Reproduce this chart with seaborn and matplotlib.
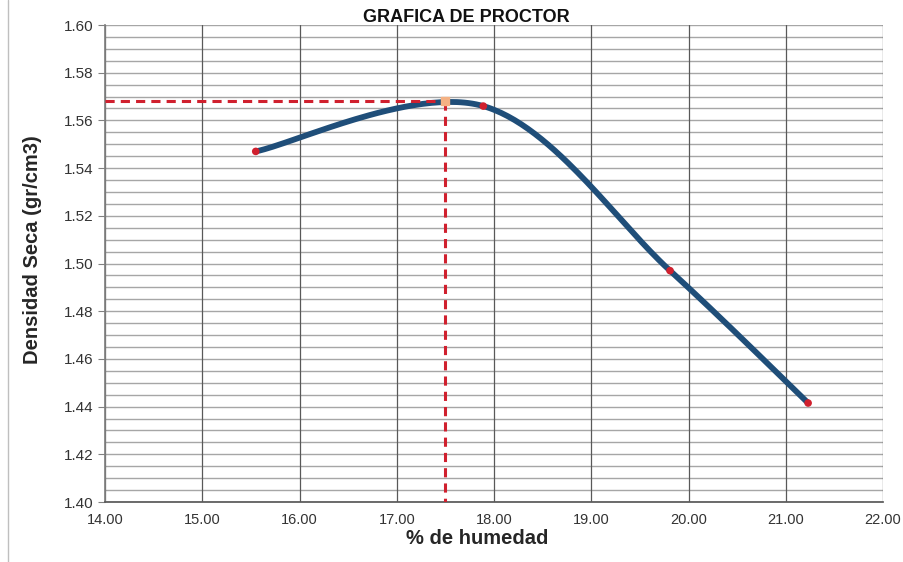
import numpy as np
import matplotlib
matplotlib.use("Agg")
import matplotlib.pyplot as plt
import seaborn as sns
import pandas as pd
from matplotlib.lines import Line2D

sns.set_theme(style="white")
plt.rcParams['font.family'] = ['Liberation Sans', 'DejaVu Sans']

# Data
humedad = [15.55, 17.89, 19.81, 21.23]
densidad = [1.547, 1.566, 1.497, 1.4415]
opt_humedad = 17.50
max_densidad = 1.568
x_ticks = [14, 15, 16, 17, 18, 19, 20, 21, 22]
y_ticks = [1.40, 1.42, 1.44, 1.46, 1.48, 1.50, 1.52, 1.54, 1.56, 1.58, 1.60]

# Excel-like smoothed line (Bezier with Catmull-Rom control points)
P = np.column_stack([humedad, densidad])
n = len(P)
sx, sy = [], []
t = np.linspace(0, 1, 60)
for i in range(n - 1):
    p0 = P[i]
    p1 = P[i + 1]
    pm = P[i - 1] if i > 0 else P[i]
    pp = P[i + 2] if i + 2 < n else P[i + 1]
    c1 = p0 + (p1 - pm) / 6.0
    c2 = p1 - (pp - p0) / 6.0
    b = ((1 - t) ** 3)[:, None] * p0 + (3 * (1 - t) ** 2 * t)[:, None] * c1 \
        + (3 * (1 - t) * t ** 2)[:, None] * c2 + (t ** 3)[:, None] * p1
    sx.extend(b[:, 0]); sy.extend(b[:, 1])
curve = pd.DataFrame({"x": sx, "y": sy})
pts = pd.DataFrame({"x": humedad, "y": densidad})

fig = plt.figure(figsize=(9.04, 5.62), dpi=100)
ax = fig.add_axes([105 / 904, 60 / 562, 778 / 904, 477 / 562])

ax.set_xlim(14, 22)
ax.set_ylim(1.40, 1.60)

# grid
for yv in np.arange(1.40, 1.6001, 0.005):
    ax.axhline(yv, color="#a6a6a6", lw=1.0, zorder=1)
for xv in x_ticks:
    ax.axvline(xv, color="#595959", lw=0.9, zorder=1)

sns.lineplot(data=curve, x="x", y="y", ax=ax, color="#1f4e79", lw=4.2,
             sort=False, estimator=None, zorder=3)
sns.scatterplot(data=pts, x="x", y="y", ax=ax, color="#d0202e", s=30,
                edgecolor="none", zorder=4)

ax.plot([14, opt_humedad], [max_densidad, max_densidad], color="#d0202e",
        lw=2.2, ls=(0, (3, 2)), zorder=5)
ax.plot([opt_humedad, opt_humedad], [max_densidad, 1.40], color="#d0202e",
        lw=2.2, ls=(0, (3, 2)), zorder=5)
ax.scatter([opt_humedad], [max_densidad], marker="s", s=30, color="#f4b183",
           zorder=6)

ax.set_xticks(x_ticks)
ax.set_xticklabels([f"{v:.2f}" for v in x_ticks], fontsize=10.5, color="#333333")
ax.set_yticks(y_ticks)
ax.set_yticklabels([f"{v:.2f}" for v in y_ticks], fontsize=11, color="#333333")
ax.tick_params(axis="y", length=5, color="#808080", left=True, width=0.8)
ax.tick_params(axis="x", length=0, pad=8)

for s in ["top", "right"]:
    ax.spines[s].set_visible(False)
ax.spines["left"].set_color("#808080")
ax.spines["bottom"].set_color("#595959")

ax.set_xlabel("% de humedad", fontsize=14.5, fontweight="bold")
ax.xaxis.set_label_coords((477 - 105) / 778, -(538 - 502) / 477)
ax.xaxis.label.set_va("center")
ax.set_ylabel("Densidad Seca (gr/cm3)", fontsize=14.5, fontweight="bold")
ax.yaxis.set_label_coords(-(105 - 33) / 778, (562 - 250 - 60) / 477)
ax.yaxis.label.set_va("center")

fig.text(466 / 904, 1 - 18 / 562, "GRAFICA DE PROCTOR", ha="center", va="center",
         fontsize=13, fontweight="bold", color="#111111")

fig.add_artist(Line2D([8 / 904, 8 / 904], [0, 1], color="#bfbfbf", lw=1.0))

fig.savefig("out.png", dpi=100)
